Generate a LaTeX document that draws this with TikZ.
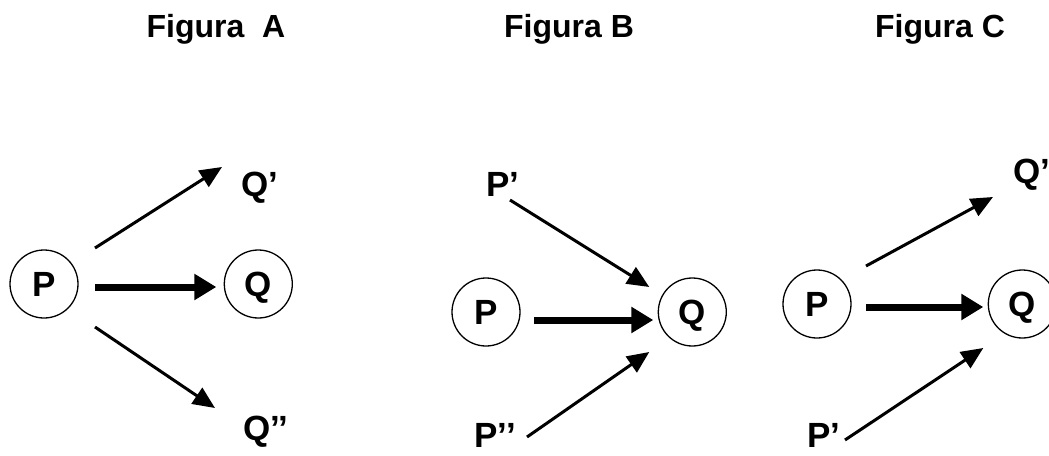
\documentclass[tikz,border=0pt]{standalone}
\usepackage{fontspec}
\setmainfont{Liberation Sans}
\usetikzlibrary{arrows.meta, positioning}
\tikzset{
  circ/.style={circle, draw=black, line width=1.3pt, minimum size=68pt, inner sep=0pt,
               text height=25pt, text depth=0pt,
               font=\fontsize{35}{35}\selectfont\bfseries},
  lbl/.style={inner sep=0pt, anchor=base, font=\fontsize{35}{35}\selectfont\bfseries},
  title/.style={inner sep=0pt, anchor=base, font=\fontsize{32}{32}\selectfont\bfseries},
  arrow/.style={-{Triangle[length=22pt,width=19pt]}, line width=3pt},
  bigarrow/.style={-{Triangle[length=22pt,width=25pt]}, line width=7pt},
}

\begin{document}
\begin{tikzpicture}[x=1pt, y=-1pt]
  \useasboundingbox (0,0) rectangle (1049,455);

  % titles
  \node[title] (ta) at (216,37) {Figura\ \ A};
  \node[title] (tb) at (569,37) {Figura B};
  \node[title] (tc) at (940,37) {Figura C};

  % Figura A
  \node[circ] (pa) at (44,284) {P};
  \node[circ, right=145pt of pa] (qa) {Q};
  \node[lbl] (qpa)  at (260,196) {Q’};
  \node[lbl] (qppa) at (266,440) {Q’’};

  % Figura B
  \node[circ] (pb) at (486,312) {P};
  \node[circ, right=137pt of pb] (qb) {Q};
  \node[lbl] (ppb)  at (503,196) {P’};
  \node[lbl] (pppb) at (495,447) {P’’};

  % Figura C
  \node[circ] (pc) at (817,304) {P};
  \node[circ, right=136pt of pc] (qc) {Q};
  \node[lbl] (qpc) at (1032,183) {Q’};
  \node[lbl] (ppc) at (824,447) {P’};

  \draw[arrow]    ([shift={(51,-36)}]pa.center) -- ([shift={(-38,-29)}]qpa.base);
  \draw[bigarrow] ([shift={(51,3)}]pa.center)   -- ([shift={(-42,3)}]qa.center);
  \draw[arrow]    ([shift={(51,43)}]pa.center)  -- ([shift={(-51,-32)}]qppa.base);

  \draw[arrow]    ([shift={(7,4)}]ppb.base)     -- ([shift={(-43,-25)}]qb.center);
  \draw[bigarrow] ([shift={(48,8)}]pb.center)   -- ([shift={(-39,8)}]qb.center);
  \draw[arrow]    ([shift={(32,-10)}]pppb.base) -- ([shift={(-43,40)}]qb.center);

  \draw[arrow]    ([shift={(49,-38)}]pc.center) -- ([shift={(-39,14)}]qpc.base);
  \draw[bigarrow] ([shift={(49,3)}]pc.center)   -- ([shift={(-39,3)}]qc.center);
  \draw[arrow]    ([shift={(21,-7)}]ppc.base)   -- ([shift={(-39,44)}]qc.center);
\end{tikzpicture}
\end{document}
